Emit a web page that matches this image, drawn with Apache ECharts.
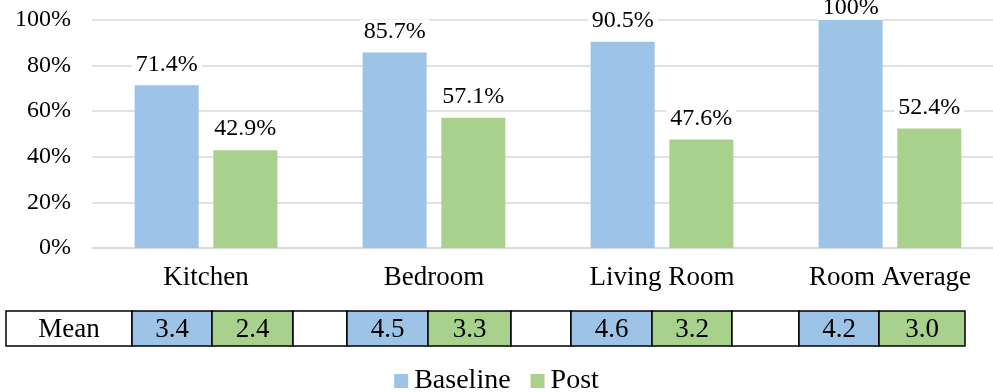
<!DOCTYPE html>
<html>
<head>
<meta charset="utf-8">
<script src="https://cdn.jsdelivr.net/npm/echarts@6/dist/echarts.min.js"></script>
<style>
  html, body { margin: 0; padding: 0; background: #fff; }
  #chart { width: 993px; height: 392px; }
</style>
</head>
<body>
<div id="chart"></div>
<script>
// Share of participants per room, before and after
const rooms = ['Kitchen', 'Bedroom', 'Living Room', 'Room Average'];
const baselinePct = [71.4, 85.7, 90.5, 100];
const postPct = [42.9, 57.1, 47.6, 52.4];
const yTicks = [0, 20, 40, 60, 80, 100];

// Mean scores shown in the table under the chart
const meanLabel = 'Mean';
const baselineMean = [3.4, 4.5, 4.6, 4.2];
const postMean = [2.4, 3.3, 3.2, 3.0];

const FONT = '"Liberation Serif", "Times New Roman", serif';
const BLUE = '#9dc3e6';
const GREEN = '#a9d18e';

const chart = echarts.init(document.getElementById('chart'), null, { renderer: 'canvas' });

function barData(values) {
  return values.map(v => v >= 100
    ? { value: v, label: { distance: 0 } }
    : v);
}

const valueLabel = {
  show: true,
  position: 'top',
  distance: 9,
  color: '#000',
  fontFamily: FONT,
  fontSize: 24,
  backgroundColor: '#fff',
  padding: [0, 4],
  formatter: p => p.value + '%'
};

// Mean table: column edges of the cells
const colEdges = [6, 132, 212, 293, 347, 428, 511, 571, 652, 732, 799, 879, 965];
const tableTop = 311, tableH = 35;

function tableGraphics() {
  const cells = [{ text: meanLabel, fill: '#fff' }];
  rooms.forEach((r, i) => {
    cells.push({ text: baselineMean[i].toFixed(1), fill: BLUE });
    cells.push({ text: postMean[i].toFixed(1), fill: GREEN });
    if (i < rooms.length - 1) cells.push({ text: '', fill: '#fff' });
  });
  const out = [];
  cells.forEach((c, k) => {
    const x0 = colEdges[k], x1 = colEdges[k + 1];
    out.push({
      type: 'rect',
      shape: { x: x0, y: tableTop, width: x1 - x0, height: tableH },
      style: { fill: c.fill, stroke: '#000', lineWidth: 1.5 },
      z: 10
    });
    if (c.text) {
      out.push({
        type: 'text',
        x: (x0 + x1) / 2,
        y: tableTop + tableH / 2 + 1,
        style: {
          text: c.text,
          fill: '#000',
          font: '27px ' + FONT,
          textAlign: 'center',
          textVerticalAlign: 'middle'
        },
        z: 11
      });
    }
  });
  return out;
}

chart.setOption({
  animation: false,
  backgroundColor: '#fff',
  textStyle: { fontFamily: FONT },
  grid: {
    left: 92, right: -11, top: 20, bottom: 144,
    containLabel: false,
    outerBoundsMode: 'none'
  },
  legend: {
    data: ['Baseline', 'Post'],
    left: 'center',
    top: 362,
    itemWidth: 14,
    itemHeight: 14,
    itemGap: 20,
    icon: 'rect',
    textStyle: { fontFamily: FONT, fontSize: 28, color: '#000', padding: [0, 0, 0, 1] }
  },
  xAxis: {
    type: 'category',
    data: rooms,
    axisLine: { show: true, lineStyle: { color: '#d9d9d9', width: 1.5 } },
    axisTick: { show: false },
    axisLabel: { color: '#000', fontFamily: FONT, fontSize: 27, margin: 16 }
  },
  yAxis: {
    type: 'value',
    min: yTicks[0],
    max: yTicks[yTicks.length - 1],
    interval: yTicks[1] - yTicks[0],
    axisLine: { show: false },
    axisTick: { show: false },
    splitLine: { lineStyle: { color: '#d9d9d9', width: 1.5 } },
    axisLabel: { color: '#000', fontFamily: FONT, fontSize: 24, margin: 21, formatter: '{value}%' }
  },
  series: [
    {
      name: 'Baseline',
      type: 'bar',
      data: barData(baselinePct),
      barWidth: 64,
      barGap: '23%',
      itemStyle: { color: BLUE },
      label: valueLabel
    },
    {
      name: 'Post',
      type: 'bar',
      data: barData(postPct),
      barWidth: 64,
      barGap: '23%',
      itemStyle: { color: GREEN },
      label: valueLabel
    }
  ],
  graphic: tableGraphics()
});
</script>
</body>
</html>
